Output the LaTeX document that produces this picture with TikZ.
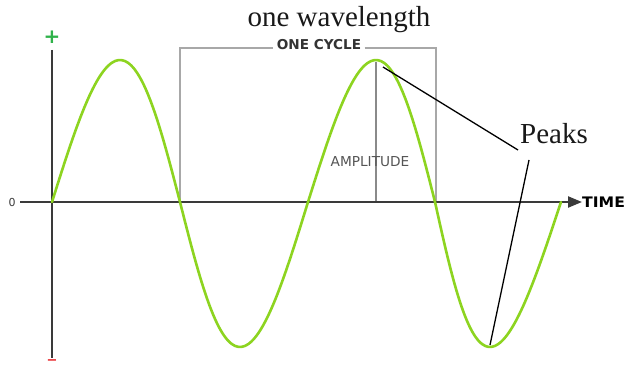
\documentclass[tikz,border=0pt]{standalone}
\usepackage{fontspec}
\setmainfont{Liberation Serif}
\newfontfamily\dejavu{DejaVu Sans}
\usetikzlibrary{arrows.meta}
\definecolor{wavegreen}{HTML}{8DD420}
\definecolor{plusgreen}{HTML}{2FB24A}
\definecolor{minusred}{HTML}{E8262A}
\definecolor{boxgray}{HTML}{A8A8A8}
\definecolor{ampgray}{HTML}{8A8A8A}
\definecolor{axisgray}{HTML}{3A3A3A}
\definecolor{labelgray}{HTML}{555555}
\tikzset{
  wave/.style={wavegreen, line width=2.6pt, line cap=round},
  axisline/.style={axisgray, line width=2.2pt},
  boxline/.style={boxgray, line width=1.3pt},
  ampline/.style={ampgray, line width=1.1pt},
  pointer/.style={black, line width=1.3pt},
  bigserif/.style={inner sep=0pt, font=\fontsize{29}{30}\selectfont, text=black!90},
  smallsans/.style={inner sep=0pt, font=\dejavu\fontsize{13.7}{14}\selectfont},
}
\begin{document}
\begin{tikzpicture}[x=1pt, y=-1pt]
\useasboundingbox (0,0) rectangle (626,369);
\fill[white] (0,0) rectangle (626,369);

% one cycle box
\node[smallsans, text=black!80, font=\dejavu\bfseries\fontsize{13.6}{14}\selectfont, outer sep=3.5pt] (cycle) at (319,45) {ONE CYCLE};
\coordinate (bl) at (180,202);
\coordinate (tl) at (180,48);
\coordinate (tr) at (436,48);
\coordinate (br) at (436,202);
\draw[boxline] (bl) -- (tl) -- (cycle.west |- tl);
\draw[boxline] (cycle.east |- tr) -- (tr) -- (br);

% amplitude
\coordinate (amptop) at (376,62);
\coordinate (ampbot) at (376,202);
\draw[ampline] (amptop) -- (ampbot);
\node[smallsans, text=labelgray] (amp) at (370,162) {AMPLITUDE};

% axes
\coordinate (vtop) at (52,50);
\coordinate (vbot) at (52,358);
\coordinate (hleft) at (20,202);
\coordinate (hright) at (582,202);
\draw[axisline] (vtop) -- (vbot);
\draw[axisline, -{Triangle[length=14pt,width=11pt]}] (hleft) -- (hright);
\node[smallsans, text=axisgray, font=\dejavu\fontsize{11}{12}\selectfont] (zero) at (12,202) {0};
\node[smallsans, text=black, font=\dejavu\bfseries\fontsize{14.5}{15}\selectfont, xscale=1.08, anchor=west] (time) at (582,202) {TIME};
\node[inner sep=0pt, text=plusgreen, font=\dejavu\bfseries\fontsize{20}{20}\selectfont] (plus) at (52,37) {+};
\node[inner sep=0pt, text=minusred, font=\dejavu\bfseries\fontsize{13}{13}\selectfont] (minus) at (52,362.5) {−};

% wave: four half waves
\draw[wave] plot[domain=0:1, samples=40, smooth] ({52+128*\x+4*sin(180*\x)}, {202-142*sin(180*\x)});
\draw[wave] plot[domain=0:1, samples=40, smooth] ({180+128*\x-4*sin(180*\x)}, {202+145*sin(180*\x)});
\draw[wave] plot[domain=0:1, samples=40, smooth] ({308+127*\x+4.5*sin(180*\x)}, {202-142*sin(180*\x)});
\draw[wave] plot[domain=0:1, samples=40, smooth] ({435+126*\x-8*sin(180*\x)}, {202+145*sin(180*\x)});

% titles
\node[bigserif, anchor=base] (title) at (339,27) {one wavelength};
\node[bigserif, anchor=base] (peaks) at (554,143) {Peaks};

% pointers
\coordinate (peak1) at (383,67);
\coordinate (peak2) at (490,345);
\coordinate (p1end) at (518,150);
\coordinate (p2end) at (529,160);
\draw[pointer] (peak1) -- (p1end);
\draw[pointer] (p2end) -- (peak2);
\end{tikzpicture}
\end{document}
